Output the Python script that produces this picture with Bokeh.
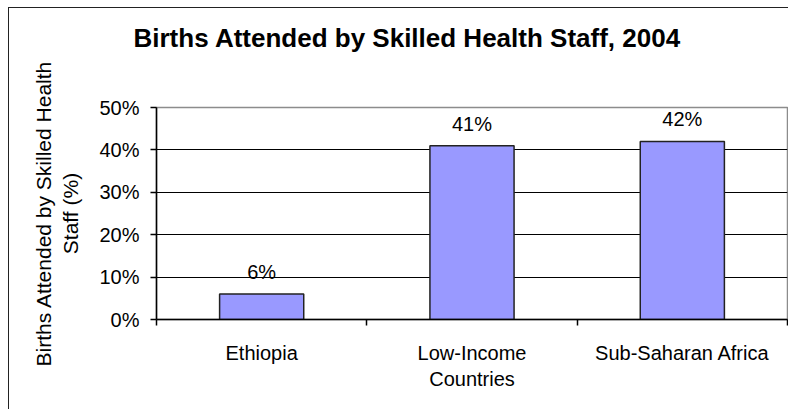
from bokeh.plotting import figure
from bokeh.models import FixedTicker, NumeralTickFormatter, Range1d, ColumnDataSource, Title
from bokeh.core.properties import value
from bokeh.embed import file_html
from bokeh.resources import INLINE

title_text = "Births Attended by Skilled Health Staff, 2004"
y_label = "Births Attended by Skilled Health\nStaff (%)"
categories = ["Ethiopia", "Low-Income\nCountries", "Sub-Saharan Africa"]
values = [0.06, 0.41, 0.42]
y_ticks = [0.0, 0.1, 0.2, 0.3, 0.4, 0.5]

FONT = "Liberation Sans"

xs = [i + 0.5 for i in range(len(categories))]
labels = [f"{v*100:.0f}%" for v in values]
src = ColumnDataSource(dict(x=xs, top=values, label=labels))

p = figure(width=779, height=401, output_backend="svg", toolbar_location=None,
           x_range=Range1d(0, len(categories)), y_range=Range1d(0, 0.5),
           min_border_left=147, min_border_right=1, min_border_top=99, min_border_bottom=90,
           margin=(8, 0, 0, 9), title=None)
p.styles = {"outline": "1.5px solid #222"}
p.background_fill_color = "white"
p.border_fill_color = "white"
p.outline_line_color = "#8c8c8c"
p.outline_line_width = 1.5

# spacer between plot area and title (closest to the frame)
p.add_layout(Title(text=" ", text_font_size="1px", standoff=50), "above")
p.add_layout(Title(text=title_text, text_font=FONT, text_font_size="26px",
                   text_font_style="bold", text_color="black", align="left",
                   offset=-23, vertical_align="top", standoff=0), "above")

p.vbar(x="x", top="top", width=0.4, bottom=0, source=src,
       fill_color="#9999ff", line_color="#222222", line_width=1.5)
p.text(x="x", y="top", text="label", source=src, text_align="center",
       text_baseline="middle", y_offset=-22, text_font=value(FONT),
       text_font_size="20px", text_color="black")

# y axis
p.yaxis.ticker = FixedTicker(ticks=y_ticks)
p.yaxis.formatter = NumeralTickFormatter(format="0%")
p.yaxis.major_label_text_font = FONT
p.yaxis.major_label_text_font_size = "20px"
p.yaxis.major_label_text_color = "black"
p.yaxis.major_tick_out = 6
p.yaxis.major_tick_in = 0
p.yaxis.minor_tick_line_color = None
p.yaxis.major_label_standoff = 11
p.yaxis.axis_line_color = "black"
p.yaxis.axis_line_width = 1.5
p.yaxis.major_tick_line_color = "black"
p.yaxis.major_tick_line_width = 1.5
p.yaxis.axis_label = y_label
p.yaxis.axis_label_text_font = FONT
p.yaxis.axis_label_text_font_size = "21px"
p.yaxis.axis_label_text_font_style = "normal"
p.yaxis.axis_label_text_color = "black"
p.yaxis.axis_label_standoff = 14

# x axis
p.xaxis.ticker = FixedTicker(ticks=xs, minor_ticks=list(range(len(categories) + 1)))
p.xaxis.major_label_overrides = {x: c for x, c in zip(xs, categories)}
p.xaxis.major_tick_line_color = None
p.xaxis.minor_tick_out = 6
p.xaxis.minor_tick_in = 0
p.xaxis.minor_tick_line_color = "black"
p.xaxis.minor_tick_line_width = 1.5
p.xaxis.axis_line_color = "black"
p.xaxis.axis_line_width = 1.5
p.xaxis.major_label_text_font = FONT
p.xaxis.major_label_text_font_size = "20px"
p.xaxis.major_label_text_color = "black"
p.xaxis.major_label_standoff = 16

p.xgrid.grid_line_color = None
p.ygrid.ticker = FixedTicker(ticks=[0.1, 0.2, 0.3, 0.4])
p.ygrid.grid_line_color = "black"
p.ygrid.grid_line_width = 1.2

open("out.html", "w").write(file_html(p, INLINE))
